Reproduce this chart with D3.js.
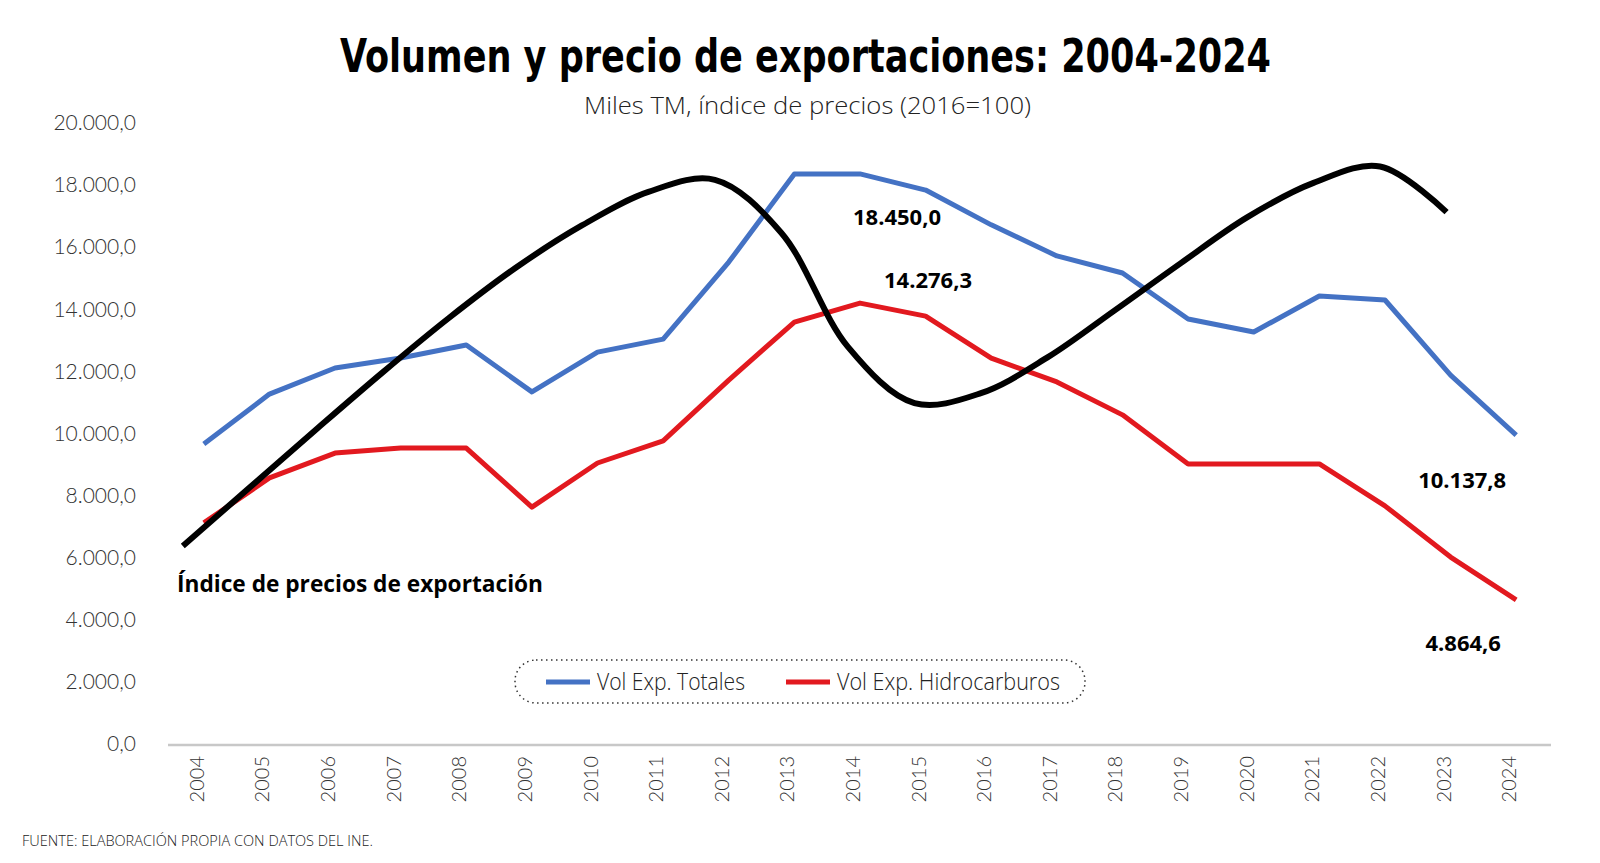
<!DOCTYPE html>
<html>
<head>
<meta charset="utf-8">
<script src="https://cdn.jsdelivr.net/npm/d3@7"></script>
<style>
    html, body { margin: 0; padding: 0; background: #fff; }
    svg { display: block; }
</style>
</head>
<body>
<div id="chart"></div>
<script>
// Data
const years = ['2004', '2005', '2006', '2007', '2008', '2009', '2010', '2011', '2012', '2013', '2014',
    '2015', '2016', '2017', '2018', '2019', '2020', '2021', '2022', '2023', '2024'];

const volTotales = [9660, 11270, 12110, 12430, 12850, 11340, 12620, 13040, 15520, 18360, 18360,
    17840, 16720, 15720, 15170, 13690, 13270, 14430, 14300, 11880, 9950];

const volHidrocarburos = [7120, 8570, 9370, 9530, 9530, 7630, 9050, 9760, 11720, 13590, 14200,
    13780, 12430, 11660, 10600, 9020, 9020, 9020, 7670, 6020, 4640];

// price index curve, drawn in primary-axis units (2004-2023)
const indiceYears = [2004, 2005, 2006, 2007, 2008, 2009, 2010, 2011, 2012, 2013,
    2014, 2015, 2016, 2017, 2018, 2019, 2020, 2021, 2022, 2023];
const indicePrecios = [6380, 8250, 10120, 11960, 13720, 15330, 16700, 17780, 18170, 16460,
    12790, 10980, 11300, 12450, 13950, 15480, 16960, 18070, 18600, 17130];

const yTicks = [0, 2000, 4000, 6000, 8000, 10000, 12000, 14000, 16000, 18000, 20000];

const valueLabels = [
    { series: 'tot', year: '2014', text: '18.450,0', dx: 37, dy: 51 },
    { series: 'hid', year: '2014', text: '14.276,3', dx: 68, dy: -15 },
    { series: 'tot', year: '2024', text: '10.137,8', dx: -54, dy: 53 },
    { series: 'hid', year: '2024', text: '4.864,6', dx: -53, dy: 51 }
];

const width = 1600;
const height = 863;

const COLOR_TOT = '#4472c4';
const COLOR_HID = '#e2191f';

const locale = d3.formatLocale({ decimal: ',', thousands: '.', grouping: [3], currency: ['', ''] });
const fmt = locale.format(',.1f');

const svg = d3.select('#chart')
    .append('svg')
    .attr('width', width)
    .attr('height', height);

const x = d3.scaleBand().domain(years).range([171, 1549]);
const xc = d => x(d) + x.bandwidth() / 2;
const y = d3.scaleLinear().domain([0, 20000]).range([744, 123]);

// black curve sits on its own (secondary) horizontal positions
const xIdx = d3.scaleLinear().domain([2004, 2023]).range([xc('2004') - 21, xc('2023') - 4]);

// Title
svg.append('text')
    .attr('x', 340).attr('y', 72)
    .attr('textLength', 931).attr('lengthAdjust', 'spacingAndGlyphs')
    .style('font-family', '"Liberation Sans Narrow", "DejaVu Sans Condensed", Roboto, sans-serif')
    .style('font-weight', 'bold')
    .style('font-size', '46px')
    .attr('fill', '#000')
    .text('Volumen y precio de exportaciones: 2004-2024');

svg.append('text')
    .attr('x', 584).attr('y', 114)
    .attr('textLength', 447).attr('lengthAdjust', 'spacingAndGlyphs')
    .style('font-family', '"Open Sans", sans-serif')
    .style('font-weight', 300)
    .style('font-size', '24px')
    .attr('fill', '#222')
    .text('Miles TM, índice de precios (2016=100)');

// Y axis (labels only)
const yAxis = svg.append('g')
    .attr('transform', 'translate(142,0)')
    .call(d3.axisLeft(y).tickValues(yTicks).tickSize(0).tickPadding(6).tickFormat(fmt));
yAxis.select('.domain').remove();
yAxis.selectAll('text')
    .style('font-family', 'Lato, sans-serif')
    .style('font-weight', 300)
    .style('font-size', '21px')
    .attr('fill', '#333');

// X axis
svg.append('line')
    .attr('x1', x.range()[0] - 3).attr('x2', x.range()[1] + 2)
    .attr('y1', y(0) + 1).attr('y2', y(0) + 1)
    .attr('stroke', '#c8c8c8')
    .attr('stroke-width', 2.5);

const xAxis = svg.append('g')
    .attr('transform', `translate(0,${y(0) + 1})`)
    .call(d3.axisBottom(x).tickSize(0));
xAxis.select('.domain').remove();
xAxis.selectAll('text')
    .attr('transform', 'rotate(-90)')
    .attr('x', -11)
    .attr('y', 0)
    .attr('dy', 0)
    .attr('text-anchor', 'end')
    .style('font-family', 'Lato, sans-serif')
    .style('font-weight', 300)
    .style('font-size', '20px')
    .attr('fill', '#333');

// Lines
const line = d3.line()
    .x((d, i) => xc(years[i]))
    .y(d => y(d));

svg.append('path')
    .datum(volTotales)
    .attr('d', line)
    .attr('fill', 'none')
    .attr('stroke', COLOR_TOT)
    .attr('stroke-width', 5)
    .attr('stroke-linejoin', 'round');

svg.append('path')
    .datum(volHidrocarburos)
    .attr('d', line)
    .attr('fill', 'none')
    .attr('stroke', COLOR_HID)
    .attr('stroke-width', 5)
    .attr('stroke-linejoin', 'round');

const smooth = d3.line()
    .x((d, i) => xIdx(indiceYears[i]))
    .y(d => y(d))
    .curve(d3.curveCatmullRom.alpha(0.5));

svg.append('path')
    .datum(indicePrecios)
    .attr('d', smooth)
    .attr('fill', 'none')
    .attr('stroke', '#000')
    .attr('stroke-width', 6);

// Annotations
svg.append('text')
    .attr('x', 177).attr('y', 592)
    .attr('textLength', 366).attr('lengthAdjust', 'spacingAndGlyphs')
    .style('font-family', '"Open Sans", sans-serif')
    .style('font-weight', 'bold')
    .style('font-size', '23px')
    .attr('fill', '#000')
    .text('Índice de precios de exportación');

const seriesData = { tot: volTotales, hid: volHidrocarburos };
svg.selectAll('.value-label')
    .data(valueLabels)
    .enter()
    .append('text')
    .attr('class', 'value-label')
    .attr('x', d => xc(d.year) + d.dx)
    .attr('y', d => y(seriesData[d.series][years.indexOf(d.year)]) + d.dy)
    .attr('text-anchor', 'middle')
    .style('font-family', '"Open Sans", sans-serif')
    .style('font-weight', 'bold')
    .style('font-size', '22px')
    .attr('fill', '#000')
    .text(d => d.text);

// Legend
const legend = svg.append('g');
legend.append('rect')
    .attr('x', 515).attr('y', 660)
    .attr('width', 570).attr('height', 43)
    .attr('rx', 21)
    .attr('fill', 'none')
    .attr('stroke', '#333')
    .attr('stroke-width', 1.5)
    .attr('stroke-dasharray', '1.5 3.5');

const legendItems = [
    { label: 'Vol Exp. Totales', color: COLOR_TOT, x: 546, tx: 597, tw: 148 },
    { label: 'Vol Exp. Hidrocarburos', color: COLOR_HID, x: 786, tx: 837, tw: 223 }
];
legendItems.forEach(item => {
    legend.append('line')
        .attr('x1', item.x).attr('x2', item.x + 44)
        .attr('y1', 682).attr('y2', 682)
        .attr('stroke', item.color)
        .attr('stroke-width', 5);
    legend.append('text')
        .attr('x', item.tx).attr('y', 690)
        .attr('textLength', item.tw).attr('lengthAdjust', 'spacingAndGlyphs')
        .style('font-family', '"Open Sans", sans-serif')
        .style('font-weight', 300)
        .style('font-size', '23px')
        .attr('fill', '#222')
        .text(item.label);
});

// Source
svg.append('text')
    .attr('x', 22).attr('y', 846)
    .attr('textLength', 351).attr('lengthAdjust', 'spacingAndGlyphs')
    .style('font-family', '"Open Sans", sans-serif')
    .style('font-weight', 300)
    .style('font-size', '15px')
    .attr('fill', '#222')
    .text('FUENTE: ELABORACIÓN PROPIA CON DATOS DEL INE.');
</script>
</body>
</html>
